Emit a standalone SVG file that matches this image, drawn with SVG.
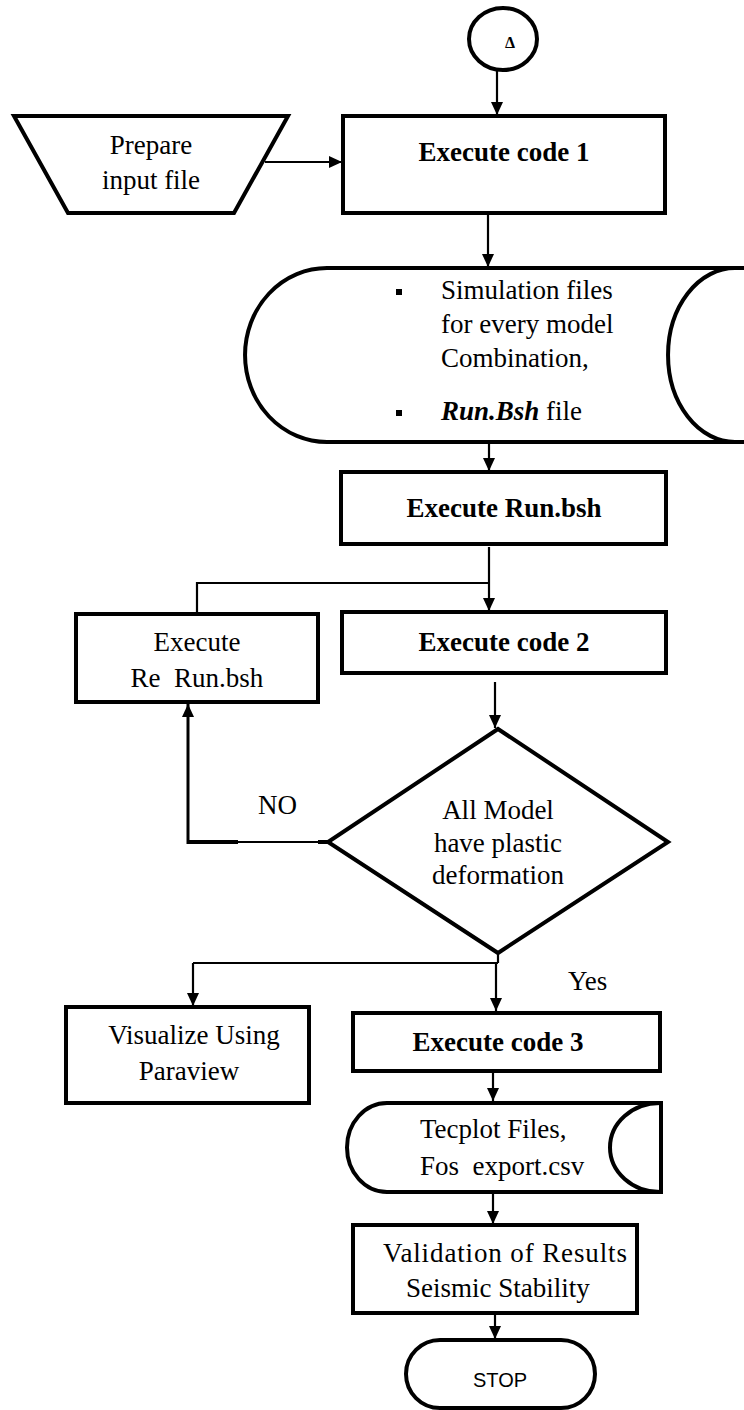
<svg xmlns="http://www.w3.org/2000/svg" width="744" height="1410" viewBox="0 0 744 1410">
<style>
.sh{fill:#fff;stroke:#000;stroke-width:4}
.t{font-family:"Liberation Serif","Times New Roman",serif;font-size:27px;fill:#000}
.b{font-weight:bold}
.m{text-anchor:middle}
.c{fill:none;stroke:#000;stroke-width:2.2}
</style>
<defs>
<marker id="ah" markerWidth="13" markerHeight="12" refX="13" refY="6" orient="auto" markerUnits="userSpaceOnUse"><path d="M0,0 L13,6 L0,12 z" fill="#000"/></marker>
</defs>
<rect width="744" height="1410" fill="#fff"/>

<g id="connectors">
<path class="c" d="M497 70 V115" marker-end="url(#ah)"/>
<path class="c" d="M265 162 H342" marker-end="url(#ah)"/>
<path class="c" d="M488 214 V267" marker-end="url(#ah)"/>
<path class="c" d="M489 443 V471" marker-end="url(#ah)"/>
<path class="c" d="M489 547 V611" marker-end="url(#ah)"/>
<path class="c" d="M489 583 H197 V614"/>
<path class="c" d="M495 682 V728" marker-end="url(#ah)"/>
<path fill="none" stroke="#000" stroke-width="4" d="M188 842 H238 M318 842 H330"/>
<path class="c" d="M238 842 H318"/>
<path fill="none" stroke="#000" stroke-width="3" d="M188 844 V704" marker-end="url(#ah)"/>
<path class="c" d="M498 953 V963 M193 963 H498"/>
<path class="c" d="M496 963 V1011" marker-end="url(#ah)"/>
<path class="c" d="M193 963 V1006" marker-end="url(#ah)"/>
<path class="c" d="M493 1073 V1101" marker-end="url(#ah)"/>
<path class="c" d="M493 1194 V1224" marker-end="url(#ah)"/>
<path class="c" d="M495 1315 V1339" marker-end="url(#ah)"/>
</g>

<g id="start">
<ellipse class="sh" cx="503" cy="39" rx="34" ry="31"/>
<text x="510" y="48" font-family="Liberation Serif,serif" font-size="16" font-weight="bold" text-anchor="middle">Δ</text>
</g>

<g id="prepare-input">
<polygon class="sh" points="14,116 288,116 234,213 68,213"/>
<text class="t m" x="151" y="154">Prepare</text>
<text class="t m" x="151" y="189">input file</text>
</g>

<g id="execute-code-1">
<rect class="sh" x="343" y="116" width="322" height="97"/>
<text class="t b m" x="504" y="161">Execute code 1</text>
</g>

<g id="simulation-files">
<path class="sh" d="M327 268 H746 V442 H327 A82 87 0 0 1 327 268 Z"/>
<path fill="none" stroke="#000" stroke-width="4" d="M735 268 A67 87 0 0 0 735 442"/>
<rect x="396" y="289" width="6" height="6" fill="#000"/>
<rect x="396" y="410" width="6" height="6" fill="#000"/>
<text class="t" x="441" y="299">Simulation files</text>
<text class="t" x="441" y="333">for every model</text>
<text class="t" x="441" y="367">Combination,</text>
<text class="t" x="441" y="420"><tspan font-weight="bold" font-style="italic">Run.Bsh</tspan> file</text>
</g>

<g id="execute-run">
<rect class="sh" x="341" y="472" width="325" height="72"/>
<text class="t b m" x="504" y="517">Execute Run.bsh</text>
</g>

<g id="execute-rerun">
<rect class="sh" x="76" y="614" width="242" height="88" stroke-width="3.5"/>
<text class="t m" x="197" y="651">Execute</text>
<text class="t m" x="197" y="687" xml:space="preserve">Re  Run.bsh</text>
</g>

<g id="execute-code-2">
<rect class="sh" x="342" y="612" width="324" height="61"/>
<text class="t b m" x="504" y="651">Execute code 2</text>
</g>

<g id="decision">
<polygon class="sh" points="498,729 668,842 498,953 328,842"/>
<text class="t m" x="498" y="819" font-size="25">All Model</text>
<text class="t m" x="498" y="852" font-size="25">have plastic</text>
<text class="t m" x="498" y="884" font-size="25">deformation</text>
</g>
<text class="t" x="258" y="814">NO</text>
<text class="t" x="568" y="990">Yes</text>

<g id="visualize">
<rect class="sh" x="66" y="1007" width="243" height="96" stroke-width="3.5"/>
<text class="t m" x="194" y="1044">Visualize Using</text>
<text class="t m" x="189" y="1080">Paraview</text>
</g>

<g id="execute-code-3">
<rect class="sh" x="353" y="1013" width="307" height="58"/>
<text class="t b m" x="498" y="1051">Execute code 3</text>
</g>

<g id="tecplot-files">
<path class="sh" d="M387 1103 H661 V1192 H387 A40 44.5 0 0 1 387 1103 Z"/>
<path fill="none" stroke="#000" stroke-width="4" d="M660 1103 A50 44.5 0 0 0 660 1192"/>
<text class="t" x="420" y="1138">Tecplot Files,</text>
<text class="t" x="420" y="1175" xml:space="preserve">Fos  export.csv</text>
</g>

<g id="validation">
<rect class="sh" x="353" y="1225" width="284" height="88" stroke-width="3.5"/>
<text class="t" x="383" y="1262" textLength="244" lengthAdjust="spacing">Validation of Results</text>
<text class="t" x="406" y="1297">Seismic Stability</text>
</g>

<g id="stop">
<rect class="sh" x="406" y="1340" width="189" height="68" rx="34" ry="34"/>
<text x="500" y="1387" font-family="Liberation Sans,Arial,sans-serif" font-size="20" text-anchor="middle">STOP</text>
</g>
</svg>
